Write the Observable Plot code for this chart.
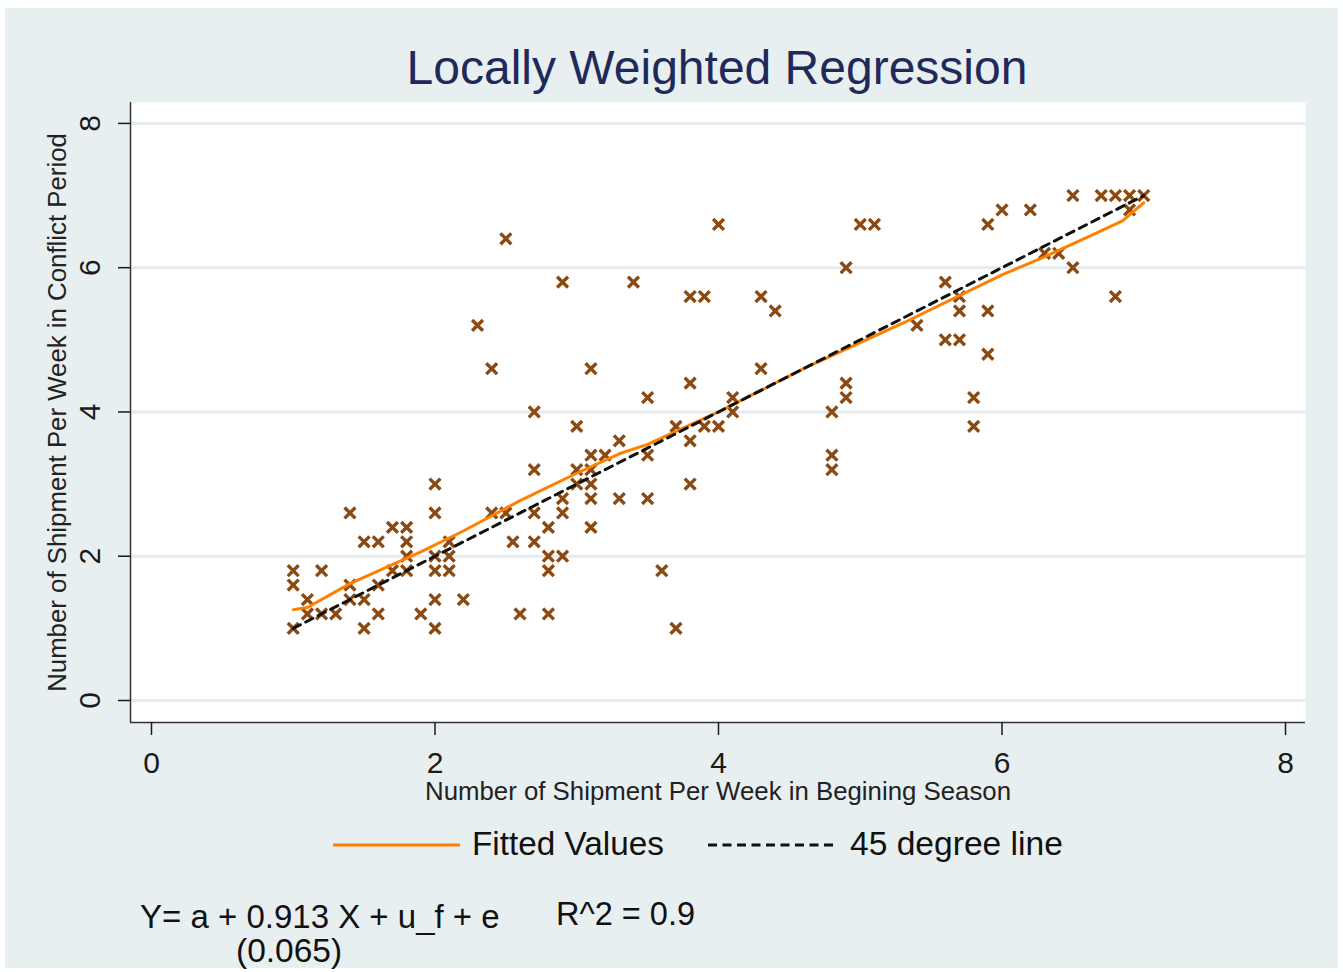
<!DOCTYPE html>
<html><head><meta charset="utf-8">
<script src="https://cdn.jsdelivr.net/npm/d3@7"></script>
<script src="https://cdn.jsdelivr.net/npm/@observablehq/plot@0.6"></script>
<style>
html,body{margin:0;padding:0;background:#fff;width:1343px;height:972px;overflow:hidden;font-family:"Liberation Sans",Arial,sans-serif;}
#bg{position:absolute;left:5px;top:8px;width:1333px;height:960px;background:#e8eff1;}
#chart{position:absolute;left:0;top:0;}
.t{position:absolute;white-space:nowrap;line-height:0.8;color:#111;}
#title{left:717px;top:49px;transform:translateX(-50%);font-size:48px;color:#1f2a5a;}
#eq{line-height:34px;}
.sw{position:absolute;}
</style></head><body>
<div id="bg"></div>
<div id="chart"></div>
<div class="t" id="title">Locally Weighted Regression</div>
<svg class="sw" style="left:333px;top:838px" width="130" height="14"><line x1="0" x2="127" y1="7" y2="7" stroke="#ff8000" stroke-width="3"/></svg>
<div class="t" style="left:472px;top:831px;font-size:33.3px;">Fitted Values</div>
<svg class="sw" style="left:708px;top:838px" width="130" height="14"><line x1="0" x2="128" y1="7" y2="7" stroke="#111" stroke-width="3" stroke-dasharray="9,5.5"/></svg>
<div class="t" style="left:850px;top:831px;font-size:33.6px;">45 degree line</div>
<div class="t" id="eq" style="left:140px;top:900px;font-size:33px;">Y= a + 0.913 X + u_f + e<br><span style="margin-left:96px;font-size:33.5px;">(0.065)</span></div>
<div class="t" style="left:556px;top:901px;font-size:32.5px;">R^2 = 0.9</div>
<script>
// Scatter points (Begining season, Conflict period)
const ptX = [1.0,1.0,1.0, 1.1,1.1, 1.2,1.2, 1.3, 1.4,1.4,1.4, 1.5,1.5,1.5, 1.6,1.6,1.6, 1.7,1.7, 1.8,1.8,1.8,1.8, 1.9, 2.0,2.0,2.0,2.0,2.0,2.0, 2.1,2.1,2.1, 2.2, 2.3, 2.4,2.4, 2.5,2.5, 2.55, 2.6, 2.7,2.7,2.7,2.7, 2.8,2.8,2.8,2.8, 2.9,2.9,2.9,2.9, 3.0,3.0,3.0, 3.1,3.1,3.1,3.1,3.1,3.1, 3.2, 3.3,3.3, 3.4, 3.5,3.5,3.5, 3.6, 3.7,3.7, 3.8,3.8,3.8,3.8, 3.9,3.9, 4.0,4.0, 4.1,4.1, 4.3,4.3, 4.4, 4.8,4.8,4.8, 4.9,4.9,4.9, 5.0, 5.1, 5.4, 5.6,5.6, 5.7,5.7,5.7, 5.8,5.8, 5.9,5.9,5.9, 6.0, 6.2, 6.3, 6.4, 6.5,6.5, 6.7, 6.8,6.8, 6.9,6.9, 7.0];
const ptY = [1.8,1.6,1.0, 1.4,1.2, 1.8,1.2, 1.2, 2.6,1.6,1.4, 2.2,1.4,1.0, 2.2,1.6,1.2, 2.4,1.8, 2.4,2.2,2.0,1.8, 1.2, 3.0,2.6,2.0,1.8,1.4,1.0, 2.2,2.0,1.8, 1.4, 5.2, 4.6,2.6, 6.4,2.6, 2.2, 1.2, 4.0,3.2,2.6,2.2, 2.4,2.0,1.8,1.2, 5.8,2.8,2.6,2.0, 3.8,3.2,3.0, 4.6,3.4,3.2,3.0,2.8,2.4, 3.4, 3.6,2.8, 5.8, 4.2,3.4,2.8, 1.8, 3.8,1.0, 5.6,4.4,3.6,3.0, 5.6,3.8, 6.6,3.8, 4.2,4.0, 5.6,4.6, 5.4, 4.0,3.4,3.2, 6.0,4.4,4.2, 6.6, 6.6, 5.2, 5.8,5.0, 5.6,5.4,5.0, 4.2,3.8, 6.6,5.4,4.8, 6.8, 6.8, 6.2, 6.2, 7.0,6.0, 7.0, 7.0,5.6, 7.0,6.8, 7.0];
// Lowess fitted values
const fitX = [1.0,1.1,1.4,1.9,2.2,2.6,3.0,3.3,3.5,4.0,4.6,4.9,5.3,6.0,6.3,6.6,6.85,7.0];
const fitY = [1.26,1.29,1.62,2.06,2.35,2.77,3.15,3.42,3.55,4.0,4.6,4.87,5.23,5.9,6.15,6.42,6.65,6.9];
// 45 degree reference line
const refX = [1, 7];
const xTicks = [0, 2, 4, 6, 8];
const yTicks = [0, 2, 4, 6, 8];
const xLabel = "Number of Shipment Per Week in Begining Season";
const yLabel = "Number of Shipment Per Week in Conflict Period";

const points = ptX.map((x, i) => ({x, y: ptY[i]}));
const fitted = fitX.map((x, i) => ({x, y: fitY[i]}));
const ref = refX.map(v => ({x: v, y: v}));

const xDomain = [-0.148, 8.141];
const yDomain = [-0.305, 8.29];

const chart = Plot.plot({
  width: 1343, height: 800,
  marginLeft: 130, marginRight: 38, marginTop: 102, marginBottom: 78,
  x: {domain: xDomain},
  y: {domain: yDomain},
  style: {background: "transparent", fontFamily: "'Liberation Sans', Arial, sans-serif", color: "#1a1a1a", overflow: "visible"},
  marks: [
    Plot.frame({fill: "white", stroke: "none"}),
    Plot.gridY({ticks: yTicks, stroke: "#e4ecef", strokeOpacity: 1, strokeWidth: 3}),
    Plot.ruleX([xDomain[0]], {stroke: "#333", strokeWidth: 1.5}),
    Plot.ruleY([yDomain[0]], {stroke: "#333", strokeWidth: 1.5}),
    Plot.axisX({ticks: xTicks, tickSize: 13, tickPadding: 16, fontSize: 30, label: null, strokeWidth: 1.5}),
    Plot.axisY({ticks: yTicks, tickSize: 12, tickPadding: 19, tickRotate: -90, fontSize: 30, label: null, strokeWidth: 1.5}),
    Plot.text([xLabel], {frameAnchor: "bottom", dy: 69, fontSize: 25.8, lineAnchor: "middle", textAnchor: "middle", fill: "#222"}),
    Plot.text([yLabel], {frameAnchor: "left", dx: -73, rotate: -90, fontSize: 25.8, lineAnchor: "middle", textAnchor: "middle", fill: "#222"}),
    Plot.dot(points, {x: "x", y: "y", symbol: "times", r: 5, stroke: "#8b4a12", strokeWidth: 3.4}),
    Plot.line(fitted, {x: "x", y: "y", stroke: "#ff8000", strokeWidth: 3}),
    Plot.line(ref, {x: "x", y: "y", stroke: "#111", strokeWidth: 3, strokeDasharray: "8,6"})
  ]
});
document.getElementById("chart").appendChild(chart);
</script>
</body></html>
